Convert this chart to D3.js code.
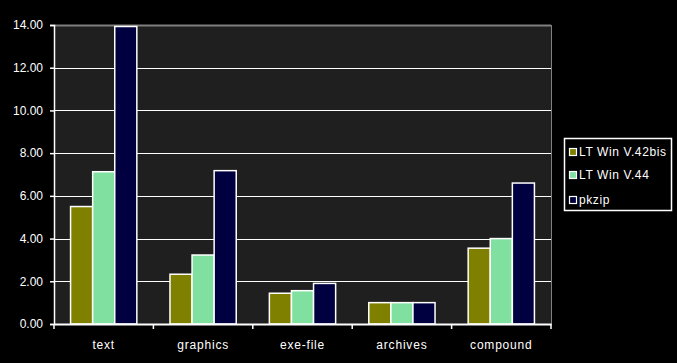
<!DOCTYPE html>
<html><head><meta charset="utf-8">
<script src="https://cdn.jsdelivr.net/npm/d3@7"></script>
<style>html,body{margin:0;padding:0;background:#000;}svg{display:block;}</style>
</head><body>
<svg id="c" width="677" height="363"></svg>
<script>
const categories = ["text","graphics","exe-file","archives","compound"];
const seriesNames = ["LT Win V.42bis","LT Win V.44","pkzip"];
const v42bis = [5.5, 2.33, 1.44, 1.0, 3.55];
const v44 = [7.13, 3.23, 1.56, 1.0, 4.0];
const pkzip = [13.93, 7.18, 1.9, 1.0, 6.6];
const yTicks = [0,2,4,6,8,10,12,14];
const colors = ["#808000","#80e0a0","#000040"];

const seriesValues = [v42bis, v44, pkzip];
const svg = d3.select("#c");
const L=54, R=551, T=25, B=324;
const font = "Liberation Sans, Arial, sans-serif";

svg.append("rect").attr("width",677).attr("height",363).attr("fill","#000");
svg.append("rect").attr("x",L).attr("y",T).attr("width",R-L).attr("height",B-T).attr("fill","#1f1f1f");

const x = d3.scaleBand().domain(categories).range([L,R]).paddingInner(0).paddingOuter(0);
const y = d3.scaleLinear().domain([0,14]).range([B,T]);
const xs = d3.scaleBand().domain(d3.range(3)).range([0,x.bandwidth()]).paddingOuter(0.75).paddingInner(0);

// gridlines
svg.append("g").selectAll("line").data(yTicks.filter(t=>t>0)).join("line")
  .attr("x1",L).attr("x2",R).attr("y1",d=>Math.round(y(d))+0.5).attr("y2",d=>Math.round(y(d))+0.5)
  .attr("stroke",d=>d===14?"#808080":"#fff").attr("stroke-width",d=>d===14?2:1);
// right border
svg.append("line").attr("x1",R+0.5).attr("x2",R+0.5).attr("y1",T).attr("y2",B).attr("stroke","#808080").attr("stroke-width",1);

// bars
const g = svg.append("g");
seriesValues.forEach((vals,si)=>{
  g.selectAll(null).data(vals).join("rect")
    .attr("x",(d,i)=>x(categories[i])+xs(si))
    .attr("y",d=>y(d))
    .attr("width",xs.bandwidth())
    .attr("height",d=>B-y(d))
    .attr("fill",colors[si]).attr("stroke","#fff").attr("stroke-width",1.5);
});

// y axis
const yAxis = d3.axisLeft(y).tickValues(yTicks).tickFormat(d3.format(".2f")).tickSize(4).tickPadding(7);
const ya = svg.append("g").attr("transform",`translate(${L},0)`).call(yAxis);
ya.select(".domain").attr("stroke","#fff").attr("stroke-width",1.5);
ya.selectAll(".tick line").attr("stroke","#fff").attr("stroke-width",1.5);
ya.selectAll("text").attr("fill","#fff").attr("font-family",font).attr("font-size",12);

// x axis
const xAxis = d3.axisBottom(x).tickSize(0).tickPadding(16);
const xa = svg.append("g").attr("transform",`translate(0,${B})`).call(xAxis);
xa.select(".domain").attr("stroke","#fff").attr("stroke-width",2);
xa.selectAll("text").attr("fill","#fff").attr("font-family",font).attr("font-size",12).attr("letter-spacing","0.8px");
xa.selectAll(null).data(d3.range(categories.length+1)).join("line")
  .attr("x1",i=>L+i*x.step()).attr("x2",i=>L+i*x.step()).attr("y1",0).attr("y2",5)
  .attr("stroke","#fff").attr("stroke-width",1.5);

// legend
const lg = svg.append("g");
lg.append("rect").attr("x",564.5).attr("y",138.5).attr("width",107).attr("height",72)
  .attr("fill","#000").attr("stroke","#fff").attr("stroke-width",1.5);
const ly = [152,175,200];
seriesNames.forEach((n,i)=>{
  lg.append("rect").attr("x",569.5).attr("y",ly[i]-3.5).attr("width",7).attr("height",7)
    .attr("fill",colors[i]).attr("stroke","#fff").attr("stroke-width",1.2);
  lg.append("text").attr("x",579).attr("y",ly[i]).attr("dy","0.35em").text(n)
    .attr("fill","#fff").attr("font-family",font).attr("font-size",12).attr("letter-spacing","0.6px");
});
</script>
</body></html>
